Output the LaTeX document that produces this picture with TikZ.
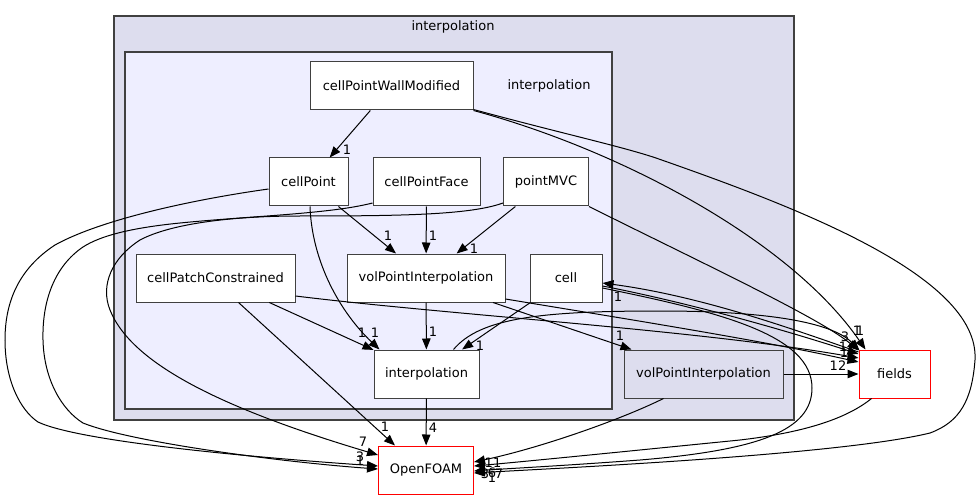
\documentclass[tikz,border=0pt]{standalone}
\usepackage{fontspec}
\setmainfont{DejaVu Sans}
\usetikzlibrary{arrows.meta}
\definecolor{outerfill}{HTML}{DDDDEE}
\definecolor{innerfill}{HTML}{EEEEFF}
\definecolor{edgegray}{HTML}{404040}
\begin{document}
\begin{tikzpicture}[x=1pt,y=-1pt,
  cluster/.style={draw=edgegray,line width=1.2pt},
  dirbox/.style={draw=edgegray,fill=white,line width=1pt,minimum width=#1,minimum height=48pt,inner sep=0pt,font=\fontsize{13}{15}\selectfont},
  extbox/.style={dirbox=#1,draw=red},
  dep/.style={-{Triangle[length=11pt,width=8.5pt]},line width=1pt},
  deplabel/.style={inner sep=0pt,font=\fontsize{13}{15}\selectfont}]
 \useasboundingbox (0,0) rectangle (978,500);
 % clusters
 \draw[cluster,fill=outerfill] (114,16) rectangle (794,420);
 \node[deplabel] (outerlbl) at (453,27) {interpolation};
 \draw[cluster,fill=innerfill] (125,52) rectangle (612,409);
 \node[deplabel] (innerlbl) at (549,86) {interpolation};
 % directories
 \node[dirbox=163pt] (cpwm) at (391.5,86) {cellPointWallModified};
 \node[dirbox=79pt] (cellPoint) at (308.5,182) {cellPoint};
 \node[dirbox=107pt] (cellPointFace) at (426.5,182) {cellPointFace};
 \node[dirbox=85pt] (pointMVC) at (546,182) {pointMVC};
 \node[dirbox=159pt] (cellPatch) at (215.5,278) {cellPatchConstrained};
 \node[dirbox=158pt] (volPoint) at (426,278) {volPointInterpolation};
 \node[dirbox=72pt] (cell) at (566,278) {cell};
 \node[dirbox=105pt] (interp) at (426.5,374) {interpolation};
 \node[dirbox=159pt,fill=outerfill] (volPointOut) at (703.5,374) {volPointInterpolation};
 \node[extbox=71pt] (fields) at (894.5,374) {fields};
 \node[extbox=95pt] (openfoam) at (426,470) {OpenFOAM};
 % inside the inner cluster
 \draw[dep] (cpwm) -- (cellPoint);
 \draw[dep] (cellPoint) -- (volPoint);
 \draw[dep] (cellPointFace) -- (volPoint);
 \draw[dep] (pointMVC) -- (volPoint);
 \draw[dep] (cellPatch) -- (interp);
 \draw[dep] (volPoint) -- (interp);
 \draw[dep] (cell) -- (interp);
 \draw[dep] ([xshift=1.5pt]cellPoint.south) .. controls (312,262) and (340,312) .. ([xshift=6pt]interp.north west);
 \draw[dep] ([xshift=67pt]volPoint.south) -- ([xshift=8pt]volPointOut.north west);
 % down to OpenFOAM
 \draw[dep] (interp) -- (openfoam);
 \draw[dep] ([xshift=23pt]cellPatch.south) -- ([xshift=-31pt]openfoam.north);
 \draw[dep] ([yshift=-7pt]cellPoint.west) .. controls (190,200) and (100,220) .. (55,245) .. controls (20,268) and (5,300) .. (5,340) .. controls (5,380) and (20,410) .. (38,422) .. controls (80,442) and (260,458) .. ([yshift=4pt]openfoam.west);
 \draw[dep] ([yshift=-21pt]cellPointFace.west) .. controls (330,214) and (250,216) .. (180,223) .. controls (130,228) and (100,236) .. (83,247) .. controls (55,266) and (42,300) .. (43,340) .. controls (44,380) and (62,410) .. (83,423) .. controls (130,442) and (280,462) .. ([yshift=1pt]openfoam.west);
 \draw[dep] ([yshift=-21pt]pointMVC.west) .. controls (470,215) and (400,216) .. (300,216) .. controls (230,216) and (170,224) .. (140,240) .. controls (112,258) and (100,285) .. (110,310) .. controls (130,360) and (210,405) .. ([yshift=15pt]openfoam.west);
 \draw[dep] ([yshift=1pt]cpwm.south east) .. controls (560,133) and (620,146) .. (656,158) .. controls (790,205) and (980,275) .. (975,360) .. controls (972,400) and (960,422) .. (930,433) .. controls (840,455) and (560,468) .. ([yshift=-3pt]openfoam.east);
 \draw[dep] ([yshift=-10pt]cell.east) .. controls (720,312) and (812,335) .. (812,388) .. controls (812,430) and (760,450) .. (640,460) .. controls (560,466) and (500,469) .. ([yshift=-1pt]openfoam.east);
 \draw[dep] ([xshift=-40pt]volPointOut.south) .. controls (620,420) and (540,448) .. ([yshift=8pt]openfoam.east);
 \draw[dep] ([xshift=-23pt]fields.south) .. controls (845,420) and (800,433) .. (740,440) .. controls (620,452) and (520,462) .. ([yshift=4pt]openfoam.east);
 % over to fields
 \draw[dep] (cpwm.south east) .. controls (620,150) and (790,240) .. ([xshift=7pt]fields.north west);
 \draw[dep] (pointMVC.south east) .. controls (700,262) and (820,318) .. ([yshift=-1pt]fields.north west);
 \draw[dep] ([xshift=27pt]interp.north) .. controls (480,318) and (540,311) .. (660,311) .. controls (780,311) and (835,325) .. ([xshift=1pt,yshift=-1pt]fields.north west);
 \draw[dep] ([yshift=-18pt]cellPatch.east) .. controls (450,315) and (700,330) .. ([yshift=16pt]fields.west);
 \draw[dep] ([yshift=-21pt]volPoint.east) .. controls (620,318) and (760,340) .. ([yshift=12pt]fields.west);
 \draw[dep] ([yshift=-8pt]cell.east) .. controls (700,305) and (800,335) .. ([yshift=20pt]fields.west);
 \draw[dep] ([yshift=22pt]fields.west) .. controls (790,328) and (700,296) .. ([yshift=-5pt]cell.east);
 \draw[dep] (volPointOut) -- (fields);
 % edge counts
 \foreach \t/\x/\y [count=\i] in {1/347/150, 1/388/236, 1/433/236, 1/474/249,
   1/362/333, 1/375/333, 1/433/332, 1/480/346, 1/385/427, 4/433/428,
   7/363/442, 3/360/457, 1/360/461, 11/493/463, 3/485/474, 6/492/473, 7/499/474, 1/492/478,
   1/620/336, 1/618/297, 3/845/337, 1/857/331, 1/860/331, 1/843/347, 1/844/353, 12/838/366}
   \node[deplabel] (cnt\i) at (\x,\y) {\t};
\end{tikzpicture}
\end{document}
